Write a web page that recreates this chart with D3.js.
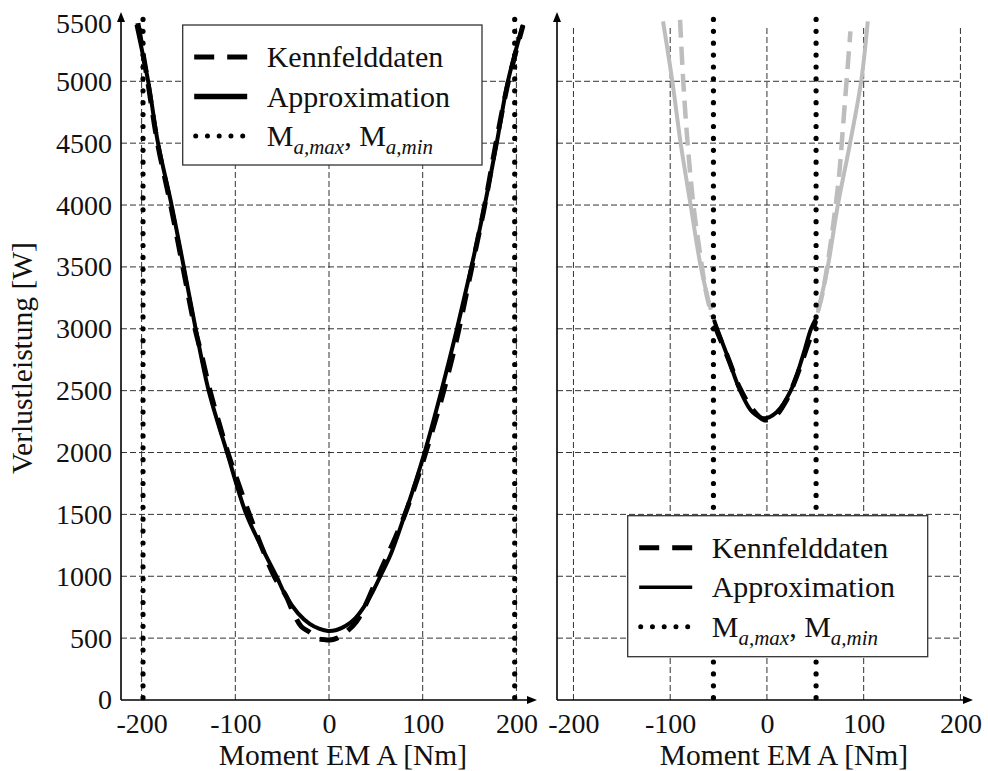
<!DOCTYPE html>
<html>
<head>
<meta charset="utf-8">
<script src="https://cdn.jsdelivr.net/npm/d3@7"></script>
<style>
  html, body { margin: 0; padding: 0; background: #fff; }
  svg { display: block; }
</style>
</head>
<body>
<svg id="chart" width="988" height="771"></svg>
<script>
// ---------------- data ----------------
const yTicks = [0, 500, 1000, 1500, 2000, 2500, 3000, 3500, 4000, 4500, 5000, 5500];
const xTicks = [-200, -100, 0, 100, 200];
const xLabel = "Moment EM A [Nm]";
const yLabel = "Verlustleistung [W]";
const legendNames = ["Kennfelddaten", "Approximation"];

// left panel
const leftApproxM = [-205.5, -193, -182.5, -168, -155, -142.3, -128.4, -108.8, -88.2, -70.4, -56.1, -46, -33, -20.6, -10, -1, 8, 18, 28, 38, 48, 56, 66, 81, 102, 120, 136.6, 152, 166.2, 179, 191, 207];
const leftApproxV = [5457, 5000, 4500, 4000, 3500, 3000, 2500, 2000, 1500, 1213, 1000, 840, 700, 615, 574, 558, 566, 600, 660, 760, 895, 1020, 1180, 1500, 2000, 2500, 3000, 3500, 4000, 4500, 5000, 5457];
const leftMapM = [-204, -193.5, -183, -169, -156, -143, -136, -127, -117, -108, -99, -85, -72, -58.5, -45.5, -38, -29.5, -20, -13.4, -5, 0.7, 8, 16.7, 29.2, 38.1, 50.6, 60, 70, 80, 90, 100, 110, 120, 128, 137, 152, 166, 178, 191.5, 207];
const leftMapV = [5470, 5000, 4500, 4000, 3500, 3000, 2790, 2500, 2230, 2000, 1800, 1500, 1240, 1000, 835, 705, 593, 545, 499, 488, 485, 498, 539, 633, 754, 970, 1130, 1300, 1480, 1690, 1920, 2170, 2430, 2660, 2940, 3480, 3990, 4490, 5000, 5450];
const leftLimits = [-198.5, 198.2];

// right panel
const rightApproxM = [-107.4, -97.8, -89.1, -78.8, -68.4, -58, -54.7, -51.5, -40.6, -27.7, -15, -2.8, 10, 24.6, 36.9, 45.6, 50.5, 52.5, 62.9, 73.2, 85.8, 97.4, 104.2];
const rightApproxV = [5484, 5000, 4495, 3996, 3503, 3153, 3072, 3000, 2775, 2500, 2326, 2277, 2326, 2500, 2775, 3000, 3080, 3130, 3503, 3996, 4495, 5000, 5484];
const rightMapM = [-89.8, -86.5, -82, -76, -69, -63, -57, -54, -50, -40, -28, -15, -3, 8, 20, 30, 40, 47, 50.5, 53, 57.5, 64.4, 69.6, 74.8, 78.3, 83.5, 86.3];
const rightMapV = [5497, 5000, 4500, 4000, 3600, 3300, 3100, 3030, 2950, 2760, 2520, 2350, 2265, 2290, 2420, 2600, 2820, 2980, 3065, 3150, 3288, 3611, 3907, 4258, 4600, 5120, 5403];
const rightLimits = [-55.3, 50.8];

// ---------------- layout ----------------
const FONT = "Liberation Serif, DejaVu Serif, serif";
const svg = d3.select("#chart");
const y = d3.scaleLinear().domain([0, 5560]).range([700, 12]);
const xL = d3.scaleLinear().domain([-222, 222]).range([121, 537]);
const xR = d3.scaleLinear().domain([-217, 213]).range([557, 973]);
const gridTop = 5440;
const gray = "#bdbdbd";

const zip = (a, b) => a.map((m, i) => [m, b[i]]);

function panel(x, opts) {
  const g = svg.append("g");
  const [d0, d1] = x.domain();
  // grid
  g.append("g").selectAll("line").data(yTicks.filter(v => v > 0 && v < 5500)).join("line")
    .attr("x1", x(d0)).attr("x2", x(200)).attr("y1", d => y(d)).attr("y2", d => y(d))
    .attr("stroke", "#333").attr("stroke-width", 1).attr("stroke-dasharray", "6,3");
  g.append("g").selectAll("line").data(xTicks).join("line")
    .attr("x1", d => x(d)).attr("x2", d => x(d)).attr("y1", y(0)).attr("y2", y(gridTop))
    .attr("stroke", "#333").attr("stroke-width", 1).attr("stroke-dasharray", "6,3");

  const line = d3.line().x(d => x(d[0])).y(d => y(d[1])).curve(d3.curveCatmullRom.alpha(0.5));
  opts.draw(g, line);

  // limit lines (dotted)
  g.append("g").selectAll("line").data(opts.limits).join("line")
    .attr("x1", d => x(d)).attr("x2", d => x(d)).attr("y1", y(5500)).attr("y2", y(0))
    .attr("stroke", "#000").attr("stroke-width", 5.2).attr("stroke-linecap", "round")
    .attr("stroke-dasharray", "0,11.9");

  // axes lines with arrows
  const ax = x(d0), ay = y(0), tipY = y(5560), tipX = x(d1);
  g.append("line").attr("x1", ax).attr("x2", ax).attr("y1", ay).attr("y2", tipY + 6)
    .attr("stroke", "#000").attr("stroke-width", 1.6);
  g.append("line").attr("x1", ax).attr("x2", tipX - 6).attr("y1", ay).attr("y2", ay)
    .attr("stroke", "#000").attr("stroke-width", 1.6);
  g.append("path").attr("d", `M${ax - 4},${tipY + 10}L${ax},${tipY}L${ax + 4},${tipY + 10}Z`).attr("fill", "#000");
  g.append("path").attr("d", `M${tipX - 10},${ay - 4}L${tipX},${ay}L${tipX - 10},${ay + 4}Z`).attr("fill", "#000");

  // x tick labels
  const xa = g.append("g").attr("transform", `translate(0,${ay})`)
    .call(d3.axisBottom(x).tickValues(xTicks).tickSize(0).tickPadding(13).tickFormat(d => String(d)));
  xa.attr("font-family", FONT);
  xa.select(".domain").remove();
  xa.selectAll("text").attr("font-size", 28).attr("font-family", FONT).attr("fill", "#111");

  if (opts.yLabels) {
    const ya = g.append("g").attr("transform", `translate(${ax},0)`)
      .call(d3.axisLeft(y).tickValues(yTicks).tickSize(0).tickPadding(9).tickFormat(d => String(d)));
    ya.attr("font-family", FONT);
    ya.select(".domain").remove();
    ya.selectAll("text").attr("font-size", 28).attr("font-family", FONT).attr("fill", "#111")
      .attr("dy", d => d === 5500 ? "0.48em" : "0.32em");
    g.append("text").attr("transform", `translate(32,358) rotate(-90)`)
      .attr("text-anchor", "middle").attr("font-size", 29.5).attr("font-family", FONT).attr("fill", "#111").text(yLabel);
  }
  g.append("text").attr("x", x(0) + opts.xLabelShift).attr("y", 765)
    .attr("text-anchor", "middle").attr("font-size", 29.5).attr("font-family", FONT).attr("fill", "#111").text(xLabel);

  // legend
  const L = opts.legend;
  const lg = g.append("g");
  lg.append("rect").attr("x", L.x).attr("y", L.y).attr("width", L.w).attr("height", L.h)
    .attr("fill", "#fff").attr("stroke", "#333").attr("stroke-width", 1.3);
  const rows = [L.y + 32, L.y + 71.5, L.y + 111];
  const sx0 = L.x + 11.5, sx1 = L.x + 64.5;
  lg.append("line").attr("x1", sx0).attr("x2", sx1).attr("y1", rows[0]).attr("y2", rows[0])
    .attr("stroke", "#000").attr("stroke-width", 5).attr("stroke-dasharray", "20,13");
  lg.append("line").attr("x1", sx0).attr("x2", sx1).attr("y1", rows[1]).attr("y2", rows[1])
    .attr("stroke", "#000").attr("stroke-width", L.solidW);
  lg.append("line").attr("x1", sx0 + 1.5).attr("x2", sx1 - 3).attr("y1", rows[2]).attr("y2", rows[2])
    .attr("stroke", "#000").attr("stroke-width", 5).attr("stroke-linecap", "round").attr("stroke-dasharray", "0,11.75");
  const tx = L.x + 84;
  legendNames.forEach((n, i) => {
    lg.append("text").attr("x", tx).attr("y", rows[i] + 10).attr("font-size", 30).attr("font-family", FONT).attr("fill", "#111").text(n);
  });
  const t = lg.append("text").attr("x", tx).attr("y", rows[2] + 10).attr("font-size", 30).attr("font-family", FONT).attr("fill", "#111");
  t.append("tspan").text("M");
  t.append("tspan").attr("dy", 8).attr("font-size", 21).attr("font-style", "italic").text("a,max");
  t.append("tspan").attr("dy", -8).text(", M");
  t.append("tspan").attr("dy", 8).attr("font-size", 21).attr("font-style", "italic").text("a,min");
}

panel(xL, {
  limits: leftLimits,
  yLabels: true,
  xLabelShift: 14,
  legend: { x: 182.7, y: 25, w: 299.3, h: 140, solidW: 5.5 },
  draw: (g, line) => {
    g.append("path").attr("d", line(zip(leftMapM, leftMapV))).attr("fill", "none")
      .attr("stroke", "#000").attr("stroke-width", 5).attr("stroke-dasharray", "19,12");
    g.append("path").attr("d", line(zip(leftApproxM, leftApproxV))).attr("fill", "none")
      .attr("stroke", "#000").attr("stroke-width", 4);
  }
});

panel(xR, {
  limits: rightLimits,
  yLabels: false,
  xLabelShift: 17,
  legend: { x: 627.7, y: 515.7, w: 300, h: 141, solidW: 3.6 },
  draw: (g, line) => {
    const map = zip(rightMapM, rightMapV), app = zip(rightApproxM, rightApproxV);
    const [lo, hi] = rightLimits;
    const inside = p => p[0] >= lo && p[0] <= hi;
    [map.filter(p => p[0] < lo), map.filter(p => p[0] > hi)].forEach(seg => {
      g.append("path").attr("d", line(seg)).attr("fill", "none")
        .attr("stroke", gray).attr("stroke-width", 4.5).attr("stroke-dasharray", "18,9");
    });
    [app.filter(p => p[0] < lo), app.filter(p => p[0] > hi)].forEach(seg => {
      g.append("path").attr("d", line(seg)).attr("fill", "none")
        .attr("stroke", gray).attr("stroke-width", 4);
    });
    g.append("path").attr("d", line(map.filter(inside))).attr("fill", "none")
      .attr("stroke", "#000").attr("stroke-width", 5).attr("stroke-dasharray", "19,12");
    g.append("path").attr("d", line(app.filter(inside))).attr("fill", "none")
      .attr("stroke", "#000").attr("stroke-width", 4);
  }
});
</script>
</body>
</html>
